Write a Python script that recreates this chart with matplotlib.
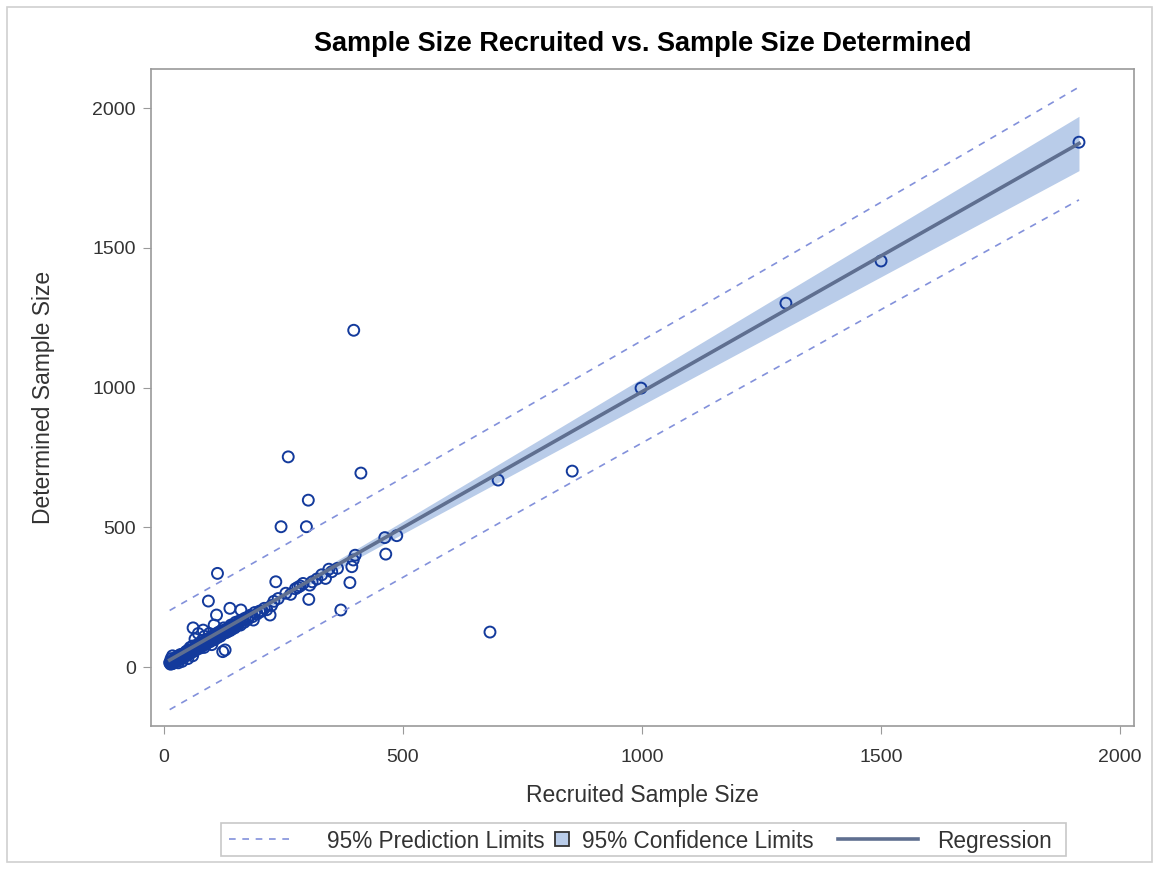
import numpy as np
import matplotlib
matplotlib.use("Agg")
import matplotlib.pyplot as plt
from matplotlib.lines import Line2D
from matplotlib.patches import Rectangle

plt.rcParams['font.family'] = ['Liberation Sans', 'DejaVu Sans']

# points: the spread-out ones first, then the dense cluster
x_outer = [1914, 1500, 1301, 998, 854, 699, 682, 397, 412, 260, 302, 245, 298,
           462, 487, 464, 400, 393, 389, 303, 370, 234, 112, 93, 138, 161, 128,
           291, 305, 338, 351, 363, 396, 255, 239, 222, 201, 187, 110, 61, 82, 123]
y_outer = [1878, 1453, 1302, 998, 701, 669, 125, 1205, 694, 752, 597, 502, 502,
           463, 470, 404, 400, 359, 302, 242, 204, 305, 335, 236, 210, 204, 61,
           299, 293, 317, 341, 353, 383, 264, 245, 186, 198, 168, 186, 140, 132, 55]

x_cluster = [12, 14, 15, 16, 18, 18, 20, 20, 22, 24, 25, 25, 26, 28, 30, 30, 30,
             32, 34, 35, 36, 38, 40, 40, 42, 44, 45, 46, 48, 50, 50, 50, 52, 54,
             55, 56, 58, 60, 60, 60, 62, 64, 65, 66, 68, 70, 70, 72, 74, 75, 76,
             78, 80, 80, 82, 84, 85, 86, 88, 90, 90, 92, 95, 96, 98, 100, 100,
             100, 102, 105, 106, 108, 110, 112, 115, 118, 120, 120, 122, 125, 128,
             130, 132, 135, 138, 140, 142, 145, 148, 150, 150, 155, 158, 160, 165,
             168, 170, 175, 178, 180, 185, 190, 195, 200, 205, 210, 215, 225, 230,
             265, 275, 280, 285, 310, 320, 330, 345,
             13, 15, 17, 19, 21, 23, 27, 29, 31, 33, 37, 39, 41, 43, 47, 49, 51,
             53, 57, 59, 61, 63, 67, 69, 71, 73, 77, 79, 81, 83, 87, 89, 91, 93,
             97, 99, 103, 107, 113, 117, 123, 127, 133, 137, 143, 147, 153, 163]
y_cluster = [15, 10, 30, 20, 12, 40, 25, 15, 30, 18, 35, 20, 28, 22, 40, 30, 15,
             35, 28, 45, 30, 20, 45, 35, 38, 50, 40, 55, 42, 60, 45, 30, 55, 48,
             70, 50, 62, 75, 55, 40, 65, 58, 100, 60, 72, 80, 65, 120, 70, 85, 68,
             75, 95, 78, 85, 70, 110, 80, 92, 100, 85, 88, 120, 90, 105, 110, 95,
             80, 100, 150, 98, 115, 120, 105, 125, 110, 130, 115, 120, 140, 122,
             135, 125, 140, 130, 150, 135, 150, 140, 160, 145, 150, 165, 150, 170,
             160, 175, 170, 180, 185, 180, 195, 190, 200, 200, 210, 205, 220, 235,
             260, 280, 285, 290, 305, 315, 330, 350,
             18, 12, 22, 25, 18, 28, 30, 25, 35, 30, 40, 35, 45, 40, 50, 45, 55,
             50, 60, 55, 65, 58, 70, 65, 75, 70, 80, 75, 85, 80, 90, 85, 95, 90,
             100, 95, 105, 110, 115, 118, 125, 130, 135, 138, 145, 148, 155, 165]

x = np.array(x_outer + x_cluster, dtype=float)
y = np.array(y_outer + y_cluster, dtype=float)

# simple linear regression with 95% confidence / prediction limits
n = len(x)
slope, intercept = np.polyfit(x, y, 1)
resid = y - (intercept + slope * x)
s = np.sqrt(np.sum(resid ** 2) / (n - 2))
sxx = np.sum((x - x.mean()) ** 2)
t = 1.971

xs = np.linspace(x.min(), x.max(), 200)
fit = intercept + slope * xs
se_mean = s * np.sqrt(1 / n + (xs - x.mean()) ** 2 / sxx)
se_pred = s * np.sqrt(1 + 1 / n + (xs - x.mean()) ** 2 / sxx)

band_color = '#b9cce9'
line_color = '#5f6f90'
pred_color = '#8391db'
mark_color = '#133a9c'
text_color = '#333333'

W, H = 1159, 869
fig = plt.figure(figsize=(W / 100, H / 100), dpi=100)
ax = fig.add_axes([0.1303, 0.1646, 0.8481, 0.756])

ax.fill_between(xs, fit - t * se_mean, fit + t * se_mean, color=band_color, lw=0, zorder=1)
ax.scatter(x, y, s=62, facecolors='none', edgecolors=mark_color, linewidths=1.4, zorder=2)
ax.plot(xs, fit, color=line_color, lw=2.6, zorder=3)
ax.plot(xs, fit - t * se_pred, color=pred_color, lw=1.2, ls=(0, (4, 4)), zorder=3)
ax.plot(xs, fit + t * se_pred, color=pred_color, lw=1.2, ls=(0, (4, 4)), zorder=3)

ax.set_xlim(-27, 2029)
ax.set_ylim(-211, 2140)
ax.set_xticks([0, 500, 1000, 1500, 2000])
ax.set_yticks([0, 500, 1000, 1500, 2000])
ax.tick_params(direction='out', length=6, color='#9a9a9a', labelsize=14,
               labelcolor=text_color)
ax.tick_params(axis='x', pad=10.5)
ax.tick_params(axis='y', pad=5)
for sp in ax.spines.values():
    sp.set_color('#9a9a9a')
    sp.set_linewidth(1.2)

ax.set_xlabel('Recruited Sample Size', fontsize=16.5, color=text_color, labelpad=13)
ax.set_ylabel('Determined Sample Size', fontsize=16.5, color=text_color, labelpad=27)
ax.set_title('Sample Size Recruited vs. Sample Size Determined', fontsize=19.5,
             fontweight='bold', pad=13)

# legend drawn by hand so each entry sits where it does in the reference (pixel coords)
def fx(px):
    return px / W

def fy(py):
    return (H - py) / H

ly = 839
fig.patches.append(Rectangle((fx(221), fy(856)), fx(1066) - fx(221), fy(823) - fy(856),
                             transform=fig.transFigure, fill=False,
                             edgecolor='#c8c8c8', lw=1.2))
fig.lines.append(Line2D([fx(229), fx(291)], [fy(ly), fy(ly)], transform=fig.transFigure,
                        color=pred_color, lw=1.2, ls=(0, (4, 4))))
fig.patches.append(Rectangle((fx(555), fy(846)), fx(569) - fx(555), fy(832) - fy(846),
                             transform=fig.transFigure, facecolor=band_color,
                             edgecolor=text_color, lw=1.3))
fig.lines.append(Line2D([fx(838), fx(918)], [fy(ly), fy(ly)], transform=fig.transFigure,
                        color=line_color, lw=2.6))
legend_labels = ['95% Prediction Limits', '95% Confidence Limits', 'Regression']
legend_x = [327, 582, 937]
for lx, lab in zip(legend_x, legend_labels):
    fig.text(fx(lx), fy(ly), lab, fontsize=16.3, color=text_color, ha='left',
             va='center_baseline')

fig.patches.append(Rectangle((fx(7), fy(862)), fx(1152) - fx(7), fy(7) - fy(862),
                             transform=fig.transFigure, fill=False,
                             edgecolor='#d0d0d0', lw=1.2))

fig.savefig('out.png', dpi=100)
